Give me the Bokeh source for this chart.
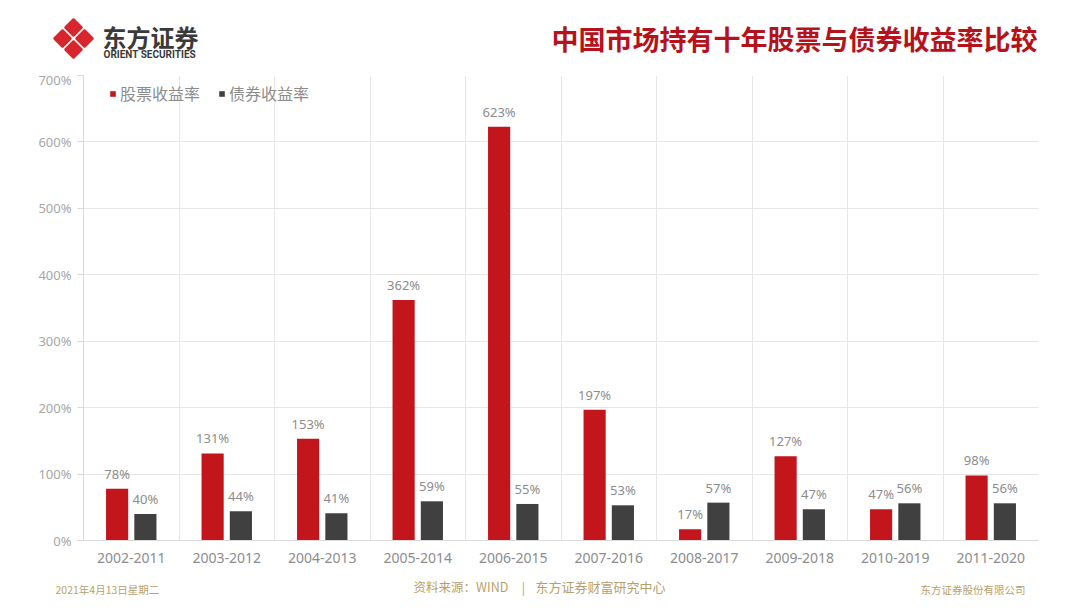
from bokeh.plotting import figure
from bokeh.models import (ColumnDataSource, Range1d, FixedTicker, PrintfTickFormatter,
                          Legend, LegendItem)
from bokeh.core.properties import value
from bokeh.embed import file_html
from bokeh.resources import INLINE

# ---------------- data ----------------
periods = ["2002-2011", "2003-2012", "2004-2013", "2005-2014", "2006-2015",
           "2007-2016", "2008-2017", "2009-2018", "2010-2019", "2011-2020"]
stock_returns = [78, 131, 153, 362, 623, 197, 17, 127, 47, 98]
bond_returns = [40, 44, 41, 59, 55, 53, 57, 47, 56, 56]
y_ticks = [0, 100, 200, 300, 400, 500, 600, 700]

title_text = "中国市场持有十年股票与债券收益率比较"
series_names = ["股票收益率", "债券收益率"]

RED = "#C3161C"
GRAY = "#404040"
LABEL = "#8C8C8C"
CJK = "Noto Sans CJK SC"

W = 1080
HEAD_H = 70
FOOT_H = 33
MAIN_H = 608 - HEAD_H - FOOT_H


def blank(h):
    f = figure(width=W, height=h, output_backend="svg", toolbar_location=None,
               x_range=Range1d(0, W), y_range=Range1d(h, 0),
               min_border=0, outline_line_color=None)
    f.axis.visible = False
    f.grid.visible = False
    return f


# ---------------- header ----------------
head = blank(HEAD_H)
cx, cy, r, g = 73, 38, 8, 11
for dx, dy in [(0, -g), (g, 0), (0, g), (-g, 0)]:
    px, py = cx + dx, cy + dy
    head.patch([px, px + r, px, px - r], [py - r, py, py + r, py],
               fill_color="#D9262C", line_color="#D9262C", line_width=2.5, line_join="round")
head.text(x=[102], y=[36], text=["东方证券"], text_font=value(CJK), text_font_style="bold",
          text_font_size="24px", text_color="#3A3A3A", text_baseline="middle", text_align="left")
head.text(x=[103], y=[54], text=["ORIENT SECURITIES"], text_font=value("Roboto"),
          text_font_style="bold", text_font_size="10px", text_color="#3A3A3A",
          text_baseline="middle", text_align="left")
head.text(x=[1037], y=[38], text=[title_text], text_font=value(CJK), text_font_style="bold",
          text_font_size="27px", text_color="#B5121B", text_baseline="middle", text_align="right")

# ---------------- main chart ----------------
n = len(periods)
centers = [i + 0.5 for i in range(n)]
off = 0.148
bw = 0.232
src = ColumnDataSource(dict(
    xs=[c - off for c in centers], xb=[c + off for c in centers],
    s=stock_returns, b=bond_returns,
    sl=[f"{v}%" for v in stock_returns], bl=[f"{v}%" for v in bond_returns],
))

p = figure(width=W, height=MAIN_H, output_backend="svg", toolbar_location=None,
           x_range=Range1d(0, n), y_range=Range1d(0, 700),
           min_border_left=83, min_border_right=42, min_border_top=5, min_border_bottom=35,
           outline_line_color=None)

r1 = p.vbar(x="xs", top="s", width=bw, source=src, fill_color=RED, line_color=None)
r2 = p.vbar(x="xb", top="b", width=bw, source=src, fill_color=GRAY, line_color=None)

p.text(x="xs", y="s", text="sl", source=src, text_align="center", text_baseline="bottom",
       y_offset=-6, text_font=value("Noto Sans"), text_font_size="13px", text_color=LABEL)
p.text(x="xb", y="b", text="bl", source=src, text_align="center", text_baseline="bottom",
       y_offset=-6, text_font=value("Noto Sans"), text_font_size="13px", text_color=LABEL)

p.xaxis.ticker = FixedTicker(ticks=centers)
p.xaxis.major_label_overrides = {c: lab for c, lab in zip(centers, periods)}
p.xaxis.major_tick_line_color = None
p.xaxis.minor_tick_line_color = None
p.xaxis.axis_line_color = "#D9D9D9"
p.xaxis.major_label_text_font = "Noto Sans"
p.xaxis.major_label_text_font_size = "14px"
p.xaxis.major_label_text_color = LABEL
p.xaxis.major_label_standoff = 6

p.yaxis.ticker = FixedTicker(ticks=y_ticks)
p.yaxis.formatter = PrintfTickFormatter(format="%d%%")
p.yaxis.major_tick_line_color = "#D9D9D9"
p.yaxis.major_tick_out = 6
p.yaxis.major_tick_in = 0
p.yaxis.minor_tick_line_color = None
p.yaxis.axis_line_color = "#D9D9D9"
p.yaxis.major_label_text_font = "Noto Sans"
p.yaxis.major_label_text_font_size = "13px"
p.yaxis.major_label_text_color = "#A6A6A6"
p.yaxis.major_label_standoff = 6

p.xgrid.ticker = FixedTicker(ticks=list(range(n + 1)))
p.xgrid.grid_line_color = "#E6E6E6"
p.ygrid.grid_line_color = "#E6E6E6"

legend = Legend(items=[LegendItem(label=series_names[0], renderers=[r1]),
                       LegendItem(label=series_names[1], renderers=[r2])],
                orientation="horizontal", location=(26, 435), padding=0, margin=0,
                glyph_width=7, glyph_height=7, label_standoff=4, spacing=18,
                label_text_font=CJK, label_text_font_size="16px", label_text_color=LABEL,
                border_line_alpha=0, background_fill_alpha=0)
p.add_layout(legend)

# ---------------- footer ----------------
foot = blank(FOOT_H)
GOLD = "#B79F6B"


def ftext(x, y, t, size, align="left"):
    foot.text(x=[x], y=[y], text=[t], text_font=value(CJK), text_font_size=size,
              text_color=GOLD, text_baseline="middle", text_align=align)


ftext(55, 14, "2021年4月13日星期二", "10.5px")
ftext(413, 11, "资料来源：WIND", "12.5px")
ftext(523, 11, "|", "12.5px", "center")
ftext(535, 11, "东方证券财富研究中心", "13px")
ftext(1025, 14, "东方证券股份有限公司", "10.5px", "right")

open("out.html", "w").write(file_html([head, p, foot], INLINE))
